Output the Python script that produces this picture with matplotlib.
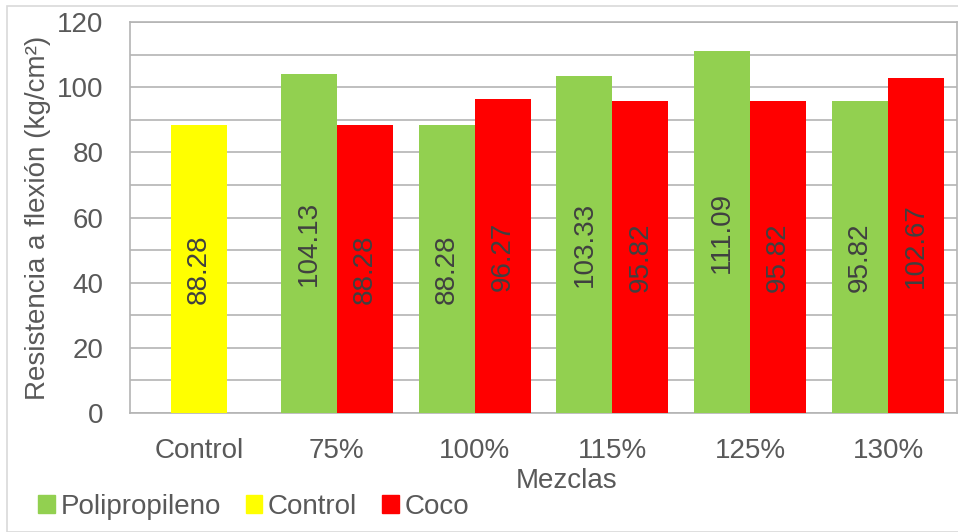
import numpy as np
import matplotlib.pyplot as plt
from matplotlib.patches import Rectangle, Patch

plt.rcParams['font.family'] = ['Liberation Sans', 'DejaVu Sans']

categorias = ['Control', '75%', '100%', '115%', '125%', '130%']
polipropileno = [104.13, 88.28, 103.33, 111.09, 95.82]
control = [88.28]
coco = [88.28, 96.27, 95.82, 95.82, 102.67]

verde = '#92D050'
amarillo = '#FFFF00'
rojo = '#FF0000'
gris_txt = '#595959'
fs = 20

fig = plt.figure(figsize=(9.58, 5.32), dpi=100)
fig.patches.append(Rectangle((7 / 958, 0), 1, 1 - 6 / 532, transform=fig.transFigure,
                             fill=False, edgecolor='#d9d9d9', linewidth=1.2, zorder=0))
ax = fig.add_axes([130 / 958, 119 / 532, 827 / 958, 391 / 532])

x = np.arange(len(categorias))
w = 56 / 138

b_ctrl = ax.bar(x[:1], control, w, color=amarillo, zorder=3)
b_pp = ax.bar(x[1:] - w / 2, polipropileno, w, color=verde, zorder=3)
b_coco = ax.bar(x[1:] + w / 2, coco, w, color=rojo, zorder=3)

for barras in (b_ctrl, b_pp, b_coco):
    ax.bar_label(barras, fmt='%.2f', label_type='center', rotation=90,
                 fontsize=fs, color='#404040', zorder=4)

ax.set_xlim(-0.5, 5.5)
ax.set_ylim(0, 120)
ax.set_yticks(np.arange(0, 121, 20))
ax.set_yticks(np.arange(0, 121, 10), minor=True)
ax.set_xticks(x)
ax.set_xticklabels(categorias)
ax.grid(axis='y', which='both', color='#b4b4b4', linewidth=1.2, zorder=0)
ax.tick_params(axis='both', which='both', length=0, labelsize=fs, labelcolor=gris_txt)
ax.tick_params(axis='y', pad=19)
ax.tick_params(axis='x', pad=18)
for s in ax.spines.values():
    s.set_color('#b4b4b4')
    s.set_linewidth(1.2)

ax.set_ylabel('Resistencia a flexión (kg/cm²)', fontsize=fs, color=gris_txt, va='center')
ax.yaxis.set_label_coords(-92 / 827, 0.5)
ax.set_xlabel('Mezclas', fontsize=fs, color=gris_txt, va='center')
ax.xaxis.set_label_coords(437 / 827, -68 / 391)

handles = [Patch(color=verde, label='Polipropileno'),
           Patch(color=amarillo, label='Control'),
           Patch(color=rojo, label='Coco')]
fig.legend(handles=handles, loc='center left', bbox_to_anchor=(27 / 958, 25 / 532),
           ncol=3, frameon=False, fontsize=fs, labelcolor=gris_txt,
           handlelength=0.6, handleheight=0.6, handletextpad=0.2,
           columnspacing=0.9, borderaxespad=0)

fig.savefig('out.png', dpi=100)
